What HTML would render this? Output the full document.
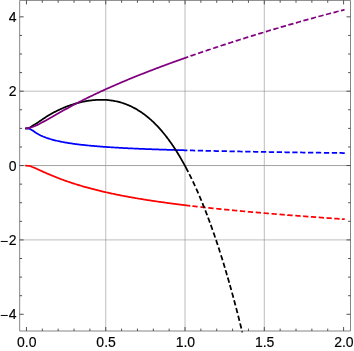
<!DOCTYPE html>
<html><head><meta charset="utf-8">
<style>
html,body{margin:0;padding:0;background:#fff;}
body{width:354px;height:351px;overflow:hidden;}
svg{display:block;will-change:transform;}
text{font-family:"Liberation Sans",sans-serif;font-size:14px;fill:#000;stroke:#000;stroke-width:0.15px;}
</style></head><body>
<svg width="354" height="351" viewBox="0 0 354 351">
<rect width="354" height="351" fill="#fff"/>
<g stroke="#808080" stroke-opacity="0.52" stroke-width="1" fill="none"><path d="M105.74 0.40V331.00"/><path d="M185.02 0.40V331.00"/><path d="M264.30 0.40V331.00"/><path d="M19.68 91.20H350.50"/><path d="M19.68 239.92H350.50"/><path stroke="#a2a2a2" stroke-opacity="1" d="M19.68 165.56H350.50"/></g>
<g fill="none" stroke-width="1.75" stroke-linejoin="round">
<path d="M25.30 128.40L25.56 128.40L26.58 128.43L27.57 128.49L28.55 128.58L29.50 128.83L30.42 129.26L31.30 129.72L32.15 130.25L32.99 130.80L33.83 131.35L34.66 131.92L35.47 132.49L36.31 133.05L37.15 133.58L38.01 134.09L38.89 134.57L39.78 135.03L40.67 135.48L41.58 135.90L42.49 136.30L43.42 136.69L44.35 137.06L45.28 137.41L46.22 137.76L47.16 138.08L48.11 138.40L49.07 138.70L50.02 138.99L50.98 139.27L51.95 139.55L52.91 139.81L53.88 140.06L54.85 140.30L55.82 140.54L56.79 140.77L57.77 140.99L58.75 141.20L59.72 141.41L60.70 141.61L61.68 141.81L62.67 142.00L63.65 142.18L64.63 142.36L65.62 142.53L66.60 142.70L67.59 142.87L68.58 143.02L69.56 143.18L70.55 143.33L71.54 143.48L72.53 143.62L73.52 143.76L74.51 143.90L75.50 144.03L76.50 144.16L77.49 144.29L78.48 144.41L79.47 144.53L80.47 144.65L81.46 144.77L82.45 144.88L83.45 144.99L84.44 145.10L85.43 145.20L86.43 145.30L87.42 145.40L88.42 145.50L89.41 145.60L90.41 145.70L91.41 145.79L92.40 145.88L93.40 145.97L94.39 146.05L95.39 146.14L96.39 146.22L97.38 146.31L98.38 146.39L99.38 146.47L100.37 146.54L101.37 146.62L102.37 146.70L103.37 146.77L104.36 146.84L105.36 146.91L106.36 146.98L107.36 147.05L108.35 147.12L109.35 147.18L110.35 147.25L111.35 147.31L112.35 147.38L113.34 147.44L114.34 147.50L115.34 147.56L116.34 147.62L117.34 147.68L118.33 147.73L119.33 147.79L120.33 147.85L121.33 147.90L122.33 147.95L123.33 148.01L124.33 148.06L125.32 148.11L126.32 148.16L127.32 148.21L128.32 148.26L129.32 148.31L130.32 148.36L131.32 148.40L132.32 148.45L133.32 148.50L134.31 148.54L135.31 148.59L136.31 148.63L137.31 148.68L138.31 148.72L139.31 148.76L140.31 148.80L141.31 148.84L142.31 148.89L143.31 148.93L144.31 148.97L145.30 149.01L146.30 149.04L147.30 149.08L148.30 149.12L149.30 149.16L150.30 149.20L151.30 149.23L152.30 149.27L153.30 149.31L154.30 149.34L155.30 149.38L156.30 149.41L157.30 149.45L158.30 149.48L159.30 149.51L160.29 149.55L161.29 149.58L162.29 149.61L163.29 149.64L164.29 149.68L165.29 149.71L166.29 149.74L167.29 149.77L168.29 149.80L169.29 149.83L170.29 149.86L171.29 149.89L172.29 149.92L173.29 149.95L174.29 149.98L175.29 150.01L176.29 150.04L177.29 150.07L178.29 150.10L179.29 150.12L180.29 150.15L181.28 150.18L182.28 150.21L183.28 150.23L184.28 150.26L185.28 150.29L186.28 150.31L187.28 150.34L187.40 150.34M189.90 150.41L190.03 150.41L191.03 150.43L192.03 150.46L193.03 150.48L194.03 150.51L195.03 150.53L195.20 150.54M197.80 150.60L198.03 150.61L199.03 150.63L200.03 150.65L201.03 150.68L202.03 150.70L203.03 150.73L203.10 150.73M205.60 150.78L205.78 150.79L206.78 150.81L207.78 150.83L208.78 150.86L209.78 150.88L210.78 150.90L210.90 150.90M213.60 150.96L213.78 150.97L214.78 150.99L215.77 151.01L216.77 151.03L217.77 151.05L218.77 151.07L218.90 151.08M221.60 151.13L221.77 151.13L222.77 151.16L223.77 151.18L224.77 151.20L225.77 151.22L226.77 151.24L226.90 151.24M229.50 151.29L229.52 151.29L230.52 151.31L231.52 151.33L232.52 151.35L233.52 151.37L234.52 151.39L234.80 151.39M237.30 151.44L237.52 151.45L238.52 151.46L239.52 151.48L240.52 151.50L241.52 151.52L242.52 151.54L242.60 151.54M245.20 151.59L245.27 151.59L246.27 151.61L247.27 151.63L248.27 151.64L249.27 151.66L250.27 151.68L250.50 151.68M253.00 151.73L253.02 151.73L254.02 151.75L255.02 151.76L256.02 151.78L257.02 151.80L258.02 151.81L258.30 151.82M260.90 151.86L261.02 151.87L262.02 151.88L263.02 151.90L264.02 151.92L265.02 151.93L266.02 151.95L266.20 151.95M268.80 151.99L269.02 152.00L270.02 152.01L271.02 152.03L272.02 152.05L273.02 152.06L274.01 152.08L274.10 152.08M276.70 152.12L276.76 152.12L277.76 152.14L278.76 152.15L279.76 152.17L280.76 152.18L281.76 152.20L282.00 152.20M284.50 152.24L284.51 152.24L285.51 152.26L286.51 152.27L287.51 152.29L288.51 152.30L289.51 152.32L289.80 152.32M292.30 152.36L292.51 152.36L293.51 152.37L294.51 152.39L295.51 152.40L296.51 152.42L297.51 152.43L297.60 152.43M300.10 152.47L300.26 152.47L301.26 152.48L302.26 152.50L303.26 152.51L304.26 152.53L305.26 152.54L305.40 152.54M308.00 152.58L308.01 152.58L309.01 152.59L310.01 152.60L311.01 152.62L312.01 152.63L313.01 152.64L313.30 152.65M315.90 152.68L316.01 152.68L317.01 152.70L318.01 152.71L319.01 152.72L320.01 152.74L321.01 152.75L321.20 152.75M323.90 152.78L324.01 152.79L325.01 152.80L326.01 152.81L327.01 152.82L328.01 152.84L329.01 152.85L329.20 152.85M331.80 152.88L332.01 152.88L333.01 152.90L334.01 152.91L335.01 152.92L336.01 152.93L337.01 152.94L337.10 152.94M339.50 152.97L339.51 152.97L340.51 152.98L341.51 152.99L342.51 153.01L343.51 153.02L344.51 153.03L344.76 153.03" stroke="#0000ff"/>
<path d="M25.30 165.70L25.56 165.70L26.57 165.73L27.57 165.78L28.56 165.85L29.53 165.96L30.49 166.22L31.44 166.58L32.38 166.96L33.31 167.31L34.23 167.70L35.15 168.11L36.06 168.51L36.97 168.93L37.88 169.34L38.79 169.75L39.70 170.17L40.61 170.59L41.52 171.00L42.43 171.41L43.35 171.83L44.26 172.24L45.17 172.64L46.08 173.05L47.00 173.45L47.92 173.85L48.84 174.25L49.75 174.64L50.68 175.03L51.60 175.42L52.52 175.80L53.45 176.18L54.37 176.56L55.30 176.93L56.23 177.30L57.16 177.67L58.09 178.03L59.03 178.39L59.96 178.74L60.90 179.10L61.83 179.45L62.77 179.79L63.71 180.13L64.65 180.47L65.59 180.81L66.54 181.14L67.48 181.47L68.43 181.79L69.37 182.12L70.32 182.44L71.27 182.75L72.22 183.07L73.17 183.37L74.12 183.68L75.07 183.98L76.03 184.29L76.98 184.58L77.94 184.88L78.90 185.17L79.85 185.46L80.81 185.74L81.77 186.03L82.73 186.31L83.69 186.58L84.65 186.86L85.61 187.13L86.58 187.40L87.54 187.67L88.51 187.93L89.47 188.19L90.44 188.45L91.40 188.70L92.37 188.96L93.34 189.21L94.31 189.46L95.28 189.70L96.25 189.95L97.22 190.19L98.19 190.43L99.16 190.67L100.13 190.90L101.10 191.13L102.08 191.36L103.05 191.59L104.03 191.82L105.00 192.04L105.98 192.26L106.95 192.48L107.93 192.70L108.90 192.92L109.88 193.13L110.86 193.34L111.84 193.55L112.81 193.76L113.79 193.97L114.77 194.17L115.75 194.37L116.73 194.57L117.71 194.77L118.69 194.97L119.67 195.16L120.65 195.36L121.63 195.55L122.62 195.74L123.60 195.93L124.58 196.11L125.56 196.30L126.55 196.48L127.53 196.66L128.51 196.85L129.50 197.02L130.48 197.20L131.47 197.38L132.45 197.55L133.43 197.73L134.42 197.90L135.41 198.07L136.39 198.24L137.38 198.41L138.36 198.57L139.35 198.74L140.34 198.90L141.32 199.06L142.31 199.22L143.30 199.38L144.28 199.54L145.27 199.70L146.26 199.86L147.25 200.01L148.23 200.17L149.22 200.32L150.21 200.47L151.20 200.62L152.19 200.77L153.18 200.92L154.17 201.06L155.16 201.21L156.15 201.36L157.14 201.50L158.12 201.64L159.11 201.79L160.10 201.93L161.09 202.07L162.09 202.21L163.08 202.34L164.07 202.48L165.06 202.62L166.05 202.75L167.04 202.89L168.03 203.02L169.02 203.15L170.01 203.29L171.00 203.42L171.99 203.55L172.99 203.68L173.98 203.80L174.97 203.93L175.96 204.06L176.95 204.19L177.95 204.31L178.94 204.44L179.93 204.56L180.92 204.68L181.92 204.80L182.91 204.93L183.90 205.05L184.89 205.17L185.89 205.29L186.88 205.41L187.87 205.52L188.86 205.64L189.86 205.76L190.30 205.81M192.40 206.05L192.59 206.08L193.58 206.19L194.58 206.31L195.57 206.42L196.56 206.53L197.56 206.64L197.67 206.66M200.40 206.96L200.54 206.98L201.53 207.09L202.53 207.19L203.52 207.30L204.52 207.41L205.51 207.52L205.67 207.54M208.30 207.82L208.49 207.84L209.49 207.94L210.48 208.05L211.48 208.15L212.47 208.26L213.46 208.36L213.57 208.37M216.20 208.64L216.20 208.64L217.20 208.75L218.19 208.85L219.18 208.95L220.18 209.05L221.17 209.15L221.47 209.18M224.10 209.44L224.16 209.45L225.16 209.54L226.15 209.64L227.15 209.74L228.14 209.84L229.14 209.93L229.37 209.96M232.00 210.21L232.12 210.22L233.12 210.32L234.11 210.41L235.11 210.50L236.10 210.60L237.10 210.69L237.28 210.71M239.90 210.95L240.09 210.97L241.08 211.06L242.08 211.16L243.07 211.25L244.07 211.34L245.07 211.43L245.18 211.44M247.80 211.68L247.80 211.68L248.80 211.77L249.80 211.86L250.79 211.95L251.79 212.03L252.79 212.12L253.08 212.15M255.70 212.38L255.77 212.39L256.77 212.47L257.77 212.56L258.76 212.65L259.76 212.73L260.75 212.82L260.98 212.84M263.60 213.06L263.74 213.08L264.74 213.16L265.74 213.25L266.73 213.33L267.73 213.42L268.73 213.50L268.88 213.51M271.50 213.73L271.72 213.75L272.71 213.83L273.71 213.91L274.70 214.00L275.70 214.08L276.70 214.16L276.78 214.17M279.50 214.39L279.69 214.41L280.69 214.49L281.68 214.57L282.68 214.65L283.68 214.73L284.67 214.81L284.78 214.82M287.40 215.02L287.41 215.03L288.41 215.11L289.41 215.18L290.40 215.26L291.40 215.34L292.40 215.42L292.68 215.44M295.30 215.65L295.39 215.65L296.39 215.73L297.38 215.81L298.38 215.88L299.38 215.96L300.37 216.04L300.58 216.05M303.10 216.24L303.12 216.24L304.11 216.32L305.11 216.40L306.11 216.47L307.10 216.55L308.10 216.62L308.39 216.64M310.90 216.83L311.09 216.84L312.09 216.92L313.09 216.99L314.09 217.06L315.08 217.14L316.08 217.21L316.19 217.22M318.70 217.40L318.82 217.41L319.82 217.48L320.82 217.55L321.82 217.62L322.81 217.69L323.81 217.77L323.99 217.78M326.50 217.96L326.55 217.96L327.55 218.03L328.55 218.10L329.55 218.17L330.54 218.24L331.54 218.31L331.79 218.33M334.30 218.50L334.53 218.52L335.53 218.59L336.53 218.65L337.53 218.72L338.52 218.79L339.52 218.86L339.59 218.86M342.00 219.02L342.02 219.03L343.01 219.09L344.01 219.16L344.76 219.21" stroke="#ff0000"/>
<path d="M25.30 128.50L25.56 128.50L26.58 128.44L27.57 128.32L28.52 128.16L29.42 127.82L30.28 127.31L31.13 126.72L31.98 126.12L32.84 125.60L33.72 125.11L34.58 124.61L35.44 124.10L36.29 123.57L37.12 123.01L37.94 122.44L38.76 121.87L39.59 121.30L40.41 120.73L41.23 120.17L42.06 119.60L42.89 119.05L43.72 118.49L44.56 117.94L45.40 117.40L46.24 116.86L47.09 116.33L47.94 115.81L48.79 115.29L49.65 114.78L50.52 114.28L51.39 113.78L52.26 113.29L53.14 112.81L54.02 112.34L54.90 111.87L55.79 111.42L56.69 110.97L57.58 110.53L58.48 110.09L59.39 109.67L60.30 109.25L61.21 108.84L62.12 108.44L63.04 108.04L63.97 107.66L64.89 107.28L65.82 106.91L66.75 106.55L67.69 106.19L68.63 105.85L69.57 105.51L70.51 105.18L71.46 104.87L72.41 104.55L73.37 104.25L74.32 103.96L75.28 103.67L76.24 103.40L77.20 103.13L78.17 102.87L79.14 102.62L80.11 102.38L81.08 102.15L82.06 101.93L83.04 101.72L84.02 101.52L85.00 101.33L85.98 101.15L86.97 100.98L87.95 100.82L88.94 100.67L89.93 100.53L90.92 100.40L91.92 100.29L92.91 100.18L93.91 100.09L94.90 100.01L95.90 99.93L96.90 99.88L97.90 99.83L98.90 99.80L99.90 99.77L100.90 99.77L101.90 99.77L102.90 99.79L103.90 99.82L104.90 99.86L105.89 99.92L106.89 99.99L107.89 100.07L108.88 100.17L109.88 100.28L110.87 100.41L111.86 100.55L112.85 100.70L113.83 100.87L114.82 101.06L115.80 101.25L116.77 101.47L117.75 101.69L118.72 101.93L119.69 102.19L120.65 102.46L121.61 102.74L122.56 103.04L123.51 103.35L124.46 103.67L125.40 104.01L126.33 104.37L127.26 104.73L128.19 105.11L129.11 105.51L130.02 105.91L130.93 106.33L131.83 106.77L132.73 107.21L133.62 107.67L134.50 108.14L135.38 108.62L136.25 109.11L137.11 109.61L137.97 110.13L138.82 110.65L139.66 111.19L140.50 111.74L141.33 112.30L142.15 112.86L142.97 113.44L143.78 114.03L144.58 114.62L145.38 115.23L146.17 115.84L146.95 116.47L147.73 117.10L148.50 117.74L149.26 118.38L150.01 119.04L150.76 119.70L151.50 120.37L152.24 121.05L152.97 121.73L153.69 122.42L154.41 123.12L155.12 123.82L155.83 124.53L156.52 125.25L157.22 125.97L157.90 126.70L158.58 127.43L159.26 128.17L159.93 128.91L160.59 129.66L161.25 130.42L161.90 131.17L162.54 131.94L163.18 132.70L163.82 133.48L164.45 134.25L165.07 135.03L165.69 135.82L166.31 136.61L166.92 137.40L167.52 138.20L168.12 139.00L168.72 139.80L169.31 140.61L169.89 141.42L170.48 142.23L171.05 143.05L171.62 143.87L172.19 144.69L172.76 145.52L173.31 146.35L173.87 147.18L174.42 148.01L174.97 148.85L175.51 149.69L176.05 150.53L176.58 151.38L177.11 152.23L177.64 153.08L178.17 153.93L178.69 154.78L179.20 155.64L179.71 156.50L180.22 157.36L180.73 158.22L181.23 159.09L181.73 159.95L182.22 160.82L182.72 161.69L183.21 162.56L183.69 163.44L184.17 164.31L184.65 165.19L185.13 166.07L185.60 166.95L186.07 167.83L186.54 168.72L187.00 169.60L187.46 170.49L187.92 171.38L188.24 172.00M189.31 174.10L189.39 174.28L189.84 175.17L190.29 176.07L190.73 176.97L191.17 177.86L191.60 178.76L191.65 178.85M192.87 181.40L192.90 181.47L193.33 182.37L193.75 183.28L194.17 184.19L194.59 185.09L195.01 186.00L195.10 186.21M196.19 188.60L196.25 188.74L196.66 189.65L197.06 190.56L197.47 191.48L197.87 192.39L198.27 193.31L198.33 193.45M199.39 195.90L199.46 196.06L199.85 196.98L200.24 197.90L200.63 198.83L201.01 199.75L201.40 200.67L201.44 200.78M202.39 203.10L202.44 203.22L202.82 204.14L203.19 205.07L203.57 206.00L203.94 206.92L204.31 207.85L204.37 208.02M205.27 210.30L205.32 210.41L205.68 211.34L206.04 212.28L206.40 213.21L206.76 214.14L207.12 215.08L207.18 215.24M208.08 217.60L208.09 217.65L208.45 218.58L208.79 219.52L209.14 220.46L209.49 221.40L209.83 222.33L209.92 222.57M210.77 224.90L210.78 224.92L211.12 225.86L211.45 226.80L211.79 227.74L212.13 228.68L212.46 229.63L212.56 229.89M213.47 232.50L213.54 232.69L213.87 233.64L214.19 234.58L214.52 235.53L214.84 236.47L215.17 237.42L215.20 237.51M216.04 240.00L216.05 240.02L216.37 240.97L216.69 241.92L217.00 242.87L217.32 243.82L217.63 244.77L217.72 245.03M218.53 247.50L218.57 247.62L218.88 248.57L219.18 249.52L219.49 250.47L219.80 251.42L220.10 252.38L220.16 252.54M221.00 255.20L221.01 255.24L221.31 256.19L221.61 257.14L221.91 258.10L222.21 259.05L222.50 260.01L222.58 260.26M223.33 262.70L223.38 262.87L223.68 263.83L223.97 264.79L224.26 265.74L224.55 266.70L224.84 267.66L224.87 267.77M225.57 270.10L225.62 270.29L225.91 271.25L226.19 272.21L226.48 273.17L226.76 274.13L227.04 275.09L227.07 275.18M227.77 277.60L227.81 277.73L228.09 278.69L228.36 279.65L228.64 280.61L228.91 281.57L229.19 282.54L229.23 282.69M229.89 285.00L229.94 285.18L230.21 286.14L230.48 287.11L230.75 288.07L231.02 289.03L231.29 290.00L231.32 290.10M232.01 292.60L232.02 292.65L232.28 293.61L232.55 294.58L232.81 295.54L233.07 296.51L233.34 297.47L233.40 297.71M234.10 300.30L234.12 300.37L234.38 301.33L234.63 302.30L234.89 303.27L235.15 304.23L235.41 305.20L235.46 305.42M236.14 308.00L236.17 308.10L236.42 309.07L236.67 310.03L236.93 311.00L237.18 311.97L237.43 312.94L237.48 313.13M238.14 315.70L238.17 315.84L238.42 316.81L238.67 317.78L238.92 318.75L239.16 319.72L239.41 320.69L239.44 320.84M240.09 323.40L240.14 323.60L240.38 324.57L240.62 325.54L240.86 326.51L241.10 327.48L241.34 328.45L241.37 328.54M241.95 330.90L242.00 331.12L242.24 332.09L242.30 332.34" stroke="#000000"/>
<path d="M25.30 128.50L25.55 128.49L26.56 128.42L27.55 128.31L28.53 128.16L29.50 127.94L30.45 127.64L31.40 127.30L32.35 126.95L33.29 126.62L34.23 126.27L35.16 125.90L36.08 125.51L36.99 125.10L37.89 124.66L38.79 124.22L39.68 123.76L40.56 123.30L41.44 122.83L42.32 122.35L43.20 121.87L44.07 121.38L44.94 120.89L45.82 120.40L46.69 119.91L47.56 119.42L48.42 118.92L49.29 118.43L50.16 117.93L51.03 117.43L51.90 116.94L52.77 116.44L53.63 115.95L54.50 115.45L55.37 114.96L56.24 114.46L57.11 113.97L57.98 113.48L58.85 112.99L59.73 112.50L60.60 112.01L61.47 111.52L62.35 111.04L63.22 110.55L64.10 110.07L64.97 109.59L65.85 109.11L66.73 108.63L67.61 108.15L68.49 107.67L69.37 107.20L70.25 106.73L71.13 106.25L72.01 105.79L72.90 105.32L73.78 104.85L74.67 104.39L75.55 103.92L76.44 103.46L77.33 103.00L78.21 102.54L79.10 102.08L79.99 101.63L80.89 101.17L81.78 100.72L82.67 100.27L83.56 99.82L84.46 99.37L85.35 98.93L86.25 98.48L87.14 98.04L88.04 97.60L88.94 97.16L89.84 96.72L90.74 96.29L91.64 95.85L92.54 95.42L93.44 94.98L94.34 94.55L95.25 94.12L96.15 93.70L97.06 93.27L97.96 92.84L98.87 92.42L99.77 92.00L100.68 91.58L101.59 91.16L102.50 90.74L103.41 90.33L104.32 89.91L105.23 89.50L106.14 89.08L107.05 88.67L107.96 88.26L108.87 87.86L109.79 87.45L110.70 87.04L111.62 86.64L112.53 86.23L113.45 85.83L114.36 85.43L115.28 85.03L116.20 84.63L117.12 84.24L118.03 83.84L118.95 83.45L119.87 83.05L120.79 82.66L121.71 82.27L122.63 81.88L123.55 81.49L124.48 81.10L125.40 80.72L126.32 80.33L127.24 79.95L128.17 79.56L129.09 79.18L130.02 78.80L130.94 78.42L131.87 78.04L132.79 77.66L133.72 77.29L134.65 76.91L135.57 76.54L136.50 76.16L137.43 75.79L138.36 75.42L139.29 75.05L140.21 74.68L141.14 74.31L142.07 73.94L143.00 73.57L143.93 73.21L144.87 72.84L145.80 72.48L146.73 72.11L147.66 71.75L148.59 71.39L149.53 71.03L150.46 70.67L151.39 70.31L152.33 69.95L153.26 69.60L154.19 69.24L155.13 68.88L156.06 68.53L157.00 68.17L157.93 67.82L158.87 67.47L159.81 67.12L160.74 66.77L161.68 66.42L162.62 66.07L163.55 65.72L164.49 65.37L165.43 65.02L166.37 64.68L167.31 64.33L168.24 63.99L169.18 63.64L170.12 63.30L171.06 62.96L172.00 62.62L172.94 62.28L173.88 61.93L174.82 61.59L175.76 61.26L176.70 60.92L177.65 60.58L178.59 60.24L179.53 59.91L180.47 59.57L181.41 59.24L182.36 58.90L183.30 58.57L184.24 58.23L185.18 57.90L186.13 57.57L187.07 57.24L188.01 56.91L188.20 56.84M190.60 56.01L190.61 56.00L191.56 55.67L192.50 55.35L193.45 55.02L194.39 54.69L195.34 54.37L195.61 54.27M198.12 53.41L198.17 53.39L199.12 53.07L200.07 52.74L201.01 52.42L201.96 52.10L202.91 51.78L203.14 51.70M205.64 50.85L205.75 50.82L206.70 50.50L207.64 50.18L208.59 49.86L209.54 49.54L210.49 49.23L210.66 49.17M213.16 48.34L213.33 48.28L214.28 47.96L215.23 47.65L216.18 47.34L217.13 47.02L218.08 46.71L218.19 46.67M220.68 45.86L220.69 45.85L221.64 45.54L222.60 45.23L223.55 44.92L224.50 44.61L225.45 44.30L225.72 44.21M228.20 43.41L228.30 43.38L229.25 43.07L230.21 42.76L231.16 42.46L232.11 42.15L233.06 41.85L233.25 41.79M235.72 41.00L235.92 40.93L236.87 40.63L237.83 40.33L238.78 40.03L239.73 39.72L240.69 39.42L240.77 39.40M243.24 38.62L243.31 38.60L244.26 38.30L245.22 38.00L246.17 37.70L247.13 37.40L248.08 37.10L248.30 37.04M250.76 36.27L250.95 36.21L251.90 35.92L252.86 35.62L253.81 35.33L254.77 35.03L255.72 34.74L255.82 34.71M258.28 33.96L258.35 33.93L259.31 33.64L260.27 33.35L261.22 33.06L262.18 32.77L263.14 32.48L263.35 32.41M265.80 31.67L266.01 31.61L266.97 31.32L267.92 31.03L268.88 30.74L269.84 30.46L270.80 30.17L270.88 30.15M273.32 29.42L273.43 29.39L274.39 29.10L275.35 28.82L276.31 28.53L277.27 28.25L278.23 27.97L278.40 27.91M280.84 27.20L280.86 27.19L281.82 26.91L282.78 26.63L283.74 26.35L284.70 26.07L285.66 25.79L285.93 25.71M288.36 25.01L288.55 24.95L289.51 24.68L290.47 24.40L291.43 24.12L292.39 23.85L293.35 23.57L293.45 23.54M295.88 22.85L296.00 22.82L296.96 22.54L297.92 22.27L298.88 22.00L299.84 21.73L300.81 21.45L300.98 21.41M303.40 20.72L303.45 20.71L304.42 20.44L305.38 20.17L306.34 19.90L307.31 19.63L308.27 19.37L308.51 19.30M310.92 18.63L311.16 18.57L312.12 18.30L313.09 18.04L314.05 17.77L315.02 17.51L315.98 17.24L316.03 17.23M318.44 16.58L318.64 16.52L319.60 16.26L320.57 16.00L321.53 15.74L322.50 15.48L323.46 15.22L323.56 15.20M325.96 14.55L326.12 14.51L327.09 14.25L328.05 14.00L329.02 13.74L329.99 13.48L330.95 13.23L331.08 13.20M333.48 12.57L333.61 12.53L334.58 12.28L335.55 12.03L336.52 11.77L337.48 11.52L338.45 11.27L338.61 11.23M341.00 10.62L341.12 10.59L342.08 10.34L343.05 10.09L344.02 9.84L344.51 9.72" stroke="#800080"/>
</g>
<g stroke="#858585" stroke-width="1" fill="none"><path d="M19.68 0.40H350.50V331.00H19.68Z"/></g>
<g stroke="#404040" stroke-width="0.9" fill="none"><path d="M26.46 331.00V327.00M26.46 0.40V4.40M42.32 331.00V328.60M42.32 0.40V2.80M58.17 331.00V328.60M58.17 0.40V2.80M74.03 331.00V328.60M74.03 0.40V2.80M89.88 331.00V328.60M89.88 0.40V2.80M105.74 331.00V327.00M105.74 0.40V4.40M121.60 331.00V328.60M121.60 0.40V2.80M137.45 331.00V328.60M137.45 0.40V2.80M153.31 331.00V328.60M153.31 0.40V2.80M169.16 331.00V328.60M169.16 0.40V2.80M185.02 331.00V327.00M185.02 0.40V4.40M200.88 331.00V328.60M200.88 0.40V2.80M216.73 331.00V328.60M216.73 0.40V2.80M232.59 331.00V328.60M232.59 0.40V2.80M248.44 331.00V328.60M248.44 0.40V2.80M264.30 331.00V327.00M264.30 0.40V4.40M280.16 331.00V328.60M280.16 0.40V2.80M296.01 331.00V328.60M296.01 0.40V2.80M311.87 331.00V328.60M311.87 0.40V2.80M327.72 331.00V328.60M327.72 0.40V2.80M343.58 331.00V327.00M343.58 0.40V4.40M19.68 314.28H23.68M350.50 314.28H346.50M19.68 295.69H22.08M350.50 295.69H348.10M19.68 277.10H22.08M350.50 277.10H348.10M19.68 258.51H22.08M350.50 258.51H348.10M19.68 239.92H23.68M350.50 239.92H346.50M19.68 221.33H22.08M350.50 221.33H348.10M19.68 202.74H22.08M350.50 202.74H348.10M19.68 184.15H22.08M350.50 184.15H348.10M19.68 165.56H23.68M350.50 165.56H346.50M19.68 146.97H22.08M350.50 146.97H348.10M19.68 128.38H22.08M350.50 128.38H348.10M19.68 109.79H22.08M350.50 109.79H348.10M19.68 91.20H23.68M350.50 91.20H346.50M19.68 72.61H22.08M350.50 72.61H348.10M19.68 54.02H22.08M350.50 54.02H348.10M19.68 35.43H22.08M350.50 35.43H348.10M19.68 16.84H23.68M350.50 16.84H346.50"/></g>
<g><text x="16.60" y="21.84" text-anchor="end">4</text>
<text x="16.60" y="96.20" text-anchor="end">2</text>
<text x="16.60" y="170.56" text-anchor="end">0</text>
<text x="16.60" y="244.92" text-anchor="end">2</text>
<text x="-0.10" y="245.92">−</text>
<text x="16.60" y="319.28" text-anchor="end">4</text>
<text x="-0.10" y="320.28">−</text>
<text x="26.81" y="346.90" text-anchor="middle">0.0</text>
<text x="106.09" y="346.90" text-anchor="middle">0.5</text>
<text x="185.37" y="346.90" text-anchor="middle">1.0</text>
<text x="264.65" y="346.90" text-anchor="middle">1.5</text>
<text x="343.93" y="346.90" text-anchor="middle">2.0</text></g>
</svg>
</body></html>
